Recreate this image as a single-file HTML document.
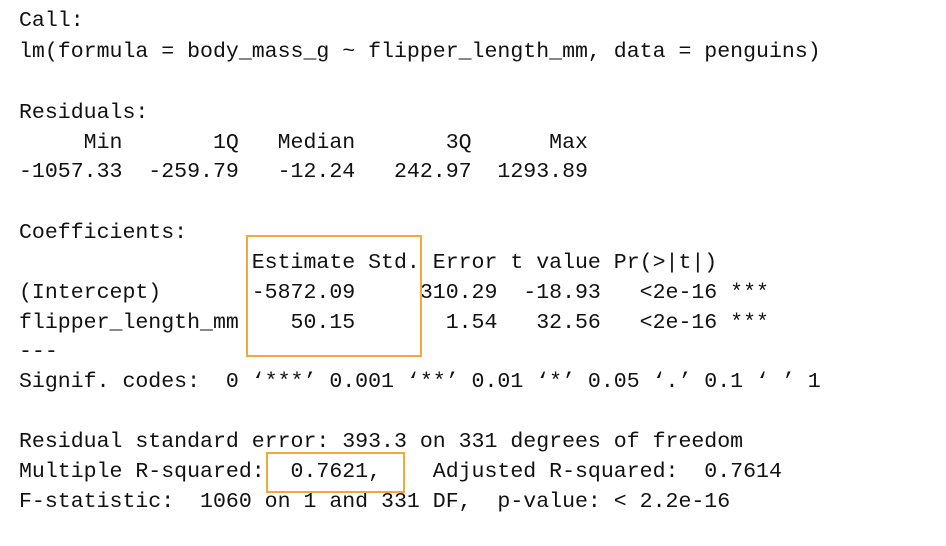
<!DOCTYPE html>
<html>
<head>
<meta charset="utf-8">
<style>
  html,body{margin:0;padding:0;background:#fff;}
  body{width:946px;height:546px;position:relative;overflow:hidden;}
  .ln{position:absolute;left:19px;height:30px;line-height:30px;white-space:pre;
      font-family:"Liberation Mono","DejaVu Sans Mono",monospace;font-size:21.55px;color:#111;}
  .box{position:absolute;border:2px solid #f2a93b;box-sizing:border-box;}
</style>
</head>
<body>
<div class="ln" style="top:6px">Call:</div>
<div class="ln" style="top:37px">lm(formula = body_mass_g ~ flipper_length_mm, data = penguins)</div>
<div class="ln" style="top:98px">Residuals:</div>
<div class="ln" style="top:128px">     Min       1Q   Median       3Q      Max </div>
<div class="ln" style="top:157px">-1057.33  -259.79   -12.24   242.97  1293.89 </div>
<div class="ln" style="top:218px">Coefficients:</div>
<div class="ln" style="top:248px">                  Estimate Std. Error t value Pr(&gt;|t|)    </div>
<div class="ln" style="top:278px">(Intercept)       -5872.09     310.29  -18.93   &lt;2e-16 ***</div>
<div class="ln" style="top:308px">flipper_length_mm    50.15       1.54   32.56   &lt;2e-16 ***</div>
<div class="ln" style="top:337px">---</div>
<div class="ln" style="top:367px">Signif. codes:  0 ‘***’ 0.001 ‘**’ 0.01 ‘*’ 0.05 ‘.’ 0.1 ‘ ’ 1</div>
<div class="ln" style="top:427px">Residual standard error: 393.3 on 331 degrees of freedom</div>
<div class="ln" style="top:457px">Multiple R-squared:  0.7621,    Adjusted R-squared:  0.7614 </div>
<div class="ln" style="top:487px">F-statistic:  1060 on 1 and 331 DF,  p-value: &lt; 2.2e-16</div>
<div class="box" style="left:246px;top:235px;width:176px;height:122px"></div>
<div class="box" style="left:266px;top:452px;width:139px;height:41px"></div>
</body>
</html>
